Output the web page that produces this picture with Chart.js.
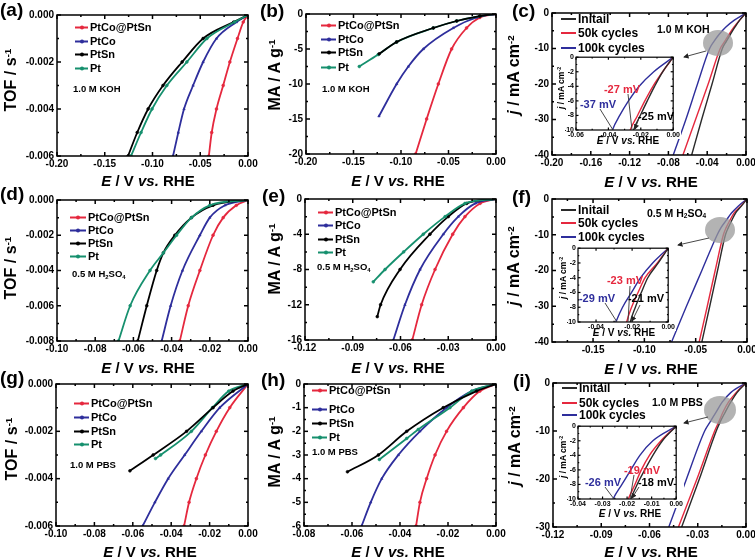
<!DOCTYPE html>
<html><head><meta charset="utf-8">
<script src="https://cdn.jsdelivr.net/npm/chart.js@4.4.1/dist/chart.umd.min.js"></script>
<style>
body{margin:0;background:#fff;width:755px;height:558px;position:relative;overflow:hidden;font-family:"Liberation Sans",Arial,sans-serif;}
canvas{position:absolute;}
.t{position:absolute;white-space:nowrap;color:#000;font-weight:bold;line-height:1;}
.t sup{font-size:62%;vertical-align:0.55em;line-height:0;}
.t sub{font-size:62%;vertical-align:-0.25em;line-height:0;}
.lg{position:absolute;white-space:nowrap;font-weight:bold;color:#000;line-height:1;transform:translateY(-50%);display:flex;align-items:center;}
.smp{position:relative;display:inline-block;height:2px;margin-right:2px;}
.dot{position:absolute;left:50%;top:50%;width:4px;height:4px;border-radius:50%;transform:translate(-50%,-50%);}
svg{position:absolute;left:0;top:0;z-index:5;}
</style></head>
<body>
<script>
// ---------------- series names ----------------
const catalysts = ['PtCo@PtSn', 'PtCo', 'PtSn', 'Pt'];
const cycles = ['Initail', '50k cycles', '100k cycles'];

// ---------------- (a) TOF, 1.0 M KOH ----------------
const aTOF = [0, -0.0003, -0.001, -0.002, -0.003, -0.004, -0.005, -0.006];
const aE_PtCoPtSn = [0, -0.005, -0.011, -0.019, -0.026, -0.033, -0.038, -0.041];
const aE_PtCo = [0, -0.012, -0.033, -0.047, -0.0575, -0.067, -0.073, -0.0785];
const aE_PtSn = [0, -0.015, -0.047, -0.069, -0.089, -0.1046, -0.116, -0.1256];
const aE_Pt = [0, -0.014, -0.043, -0.064, -0.085, -0.1005, -0.112, -0.1225];

// ---------------- (b) MA, 1.0 M KOH ----------------
const bMA_PtCoPtSn = [0, -0.5, -2, -5, -10, -15, -20];
const bE_PtCoPtSn = [0, -0.017, -0.031, -0.0467, -0.0607, -0.073, -0.0846];
const bMA_PtCo = [0, -0.5, -2, -5, -7.5, -10, -14.6];
const bE_PtCo = [0, -0.0204, -0.045, -0.0765, -0.0923, -0.1046, -0.1232];
const bMA_PtSn = [0, -0.3, -1, -2, -4, -5.7];
const bE_PtSn = [0, -0.017, -0.0414, -0.066, -0.1046, -0.123];
const bMA_Pt = [0, -0.3, -1, -2, -4, -5.8, -7.5];
const bE_Pt = [0, -0.017, -0.0414, -0.066, -0.1046, -0.124, -0.1439];

// ---------------- (c) stability, 1.0 M KOH ----------------
const cJ = [0, -2, -4, -6, -8, -10, -20, -30, -40];
const cE_Init = [0, -0.0065, -0.0115, -0.016, -0.0203, -0.0244, -0.035, -0.0457, -0.056];
const cE_50k = [0, -0.0065, -0.0125, -0.0175, -0.022, -0.0265, -0.039, -0.052, -0.065];
const cE_100k = [0, -0.012, -0.021, -0.0276, -0.033, -0.0375, -0.050, -0.062, -0.075];

// ---------------- (d) TOF, 0.5 M H2SO4 ----------------
const dTOF_A = [0, -0.0003, -0.001, -0.002, -0.004, -0.006, -0.008];
const dE_PtCoPtSn = [0, -0.0061, -0.013, -0.0183, -0.0252, -0.0313, -0.0357];
const dE_PtCo = [0, -0.012, -0.020, -0.0252, -0.0343, -0.0405, -0.0452];
const dTOF_B = [0, -0.0003, -0.001, -0.002, -0.003, -0.004, -0.006, -0.008];
const dE_PtSn = [0, -0.0183, -0.0296, -0.0383, -0.0443, -0.0478, -0.053, -0.0577];
const dE_Pt = [0, -0.020, -0.0296, -0.0374, -0.0443, -0.0513, -0.0617, -0.0678];

// ---------------- (e) MA, 0.5 M H2SO4 ----------------
const eMA = [0, -0.5, -2, -4, -8, -12, -16];
const eE_PtCoPtSn = [0, -0.010, -0.0195, -0.0272, -0.0383, -0.0467, -0.0526];
const eE_PtCo = [0, -0.013, -0.0237, -0.0331, -0.0477, -0.0572, -0.0645];
const eMA_PtSn = [0, -0.5, -2, -4, -8, -12, -13.35];
const eE_PtSn = [0, -0.0184, -0.030, -0.0415, -0.0603, -0.0725, -0.0746];
const eMA_Pt = [0, -0.5, -2, -4, -6, -8, -9.4];
const eE_Pt = [0, -0.0195, -0.032, -0.0457, -0.058, -0.0697, -0.0771];

// ---------------- (f) stability, 0.5 M H2SO4 ----------------
const fJ = [0, -2, -4, -6, -8, -10, -20, -30, -40];
const fE_Init = [0, -0.0055, -0.0113, -0.0149, -0.0182, -0.021, -0.0287, -0.0363, -0.044];
const fE_50k = [0, -0.006, -0.0128, -0.0167, -0.0203, -0.023, -0.031, -0.0387, -0.0466];
const fE_100k = [0, -0.0086, -0.0153, -0.0203, -0.0253, -0.029, -0.044, -0.059, -0.0735];

// ---------------- (g) TOF, 1.0 M PBS ----------------
const gTOF = [0, -0.001, -0.002, -0.003, -0.004, -0.005, -0.006];
const gE_PtCoPtSn = [0, -0.0095, -0.0165, -0.0222, -0.0269, -0.0307, -0.0333];
const gE_PtCo = [0, -0.0147, -0.0243, -0.033, -0.0416, -0.0485, -0.0549];
const gTOF_PtSn = [0, -0.0003, -0.001, -0.002, -0.003, -0.00367];
const gE_PtSn = [0, -0.0078, -0.0182, -0.032, -0.0494, -0.0615];
const gTOF_Pt = [0, -0.0003, -0.001, -0.002, -0.003, -0.00315];
const gE_Pt = [0, -0.010, -0.0185, -0.0295, -0.0455, -0.0482];

// ---------------- (h) MA, 1.0 M PBS ----------------
const hMA = [0, -0.3, -1, -2, -3, -4, -5, -6];
const hE_PtCoPtSn = [0, -0.0067, -0.0136, -0.0206, -0.0254, -0.0289, -0.0317, -0.0333];
const hE_PtCo = [0, -0.0101, -0.0206, -0.0317, -0.0407, -0.0476, -0.0522, -0.056];
const hMA_PtSn = [0, -0.3, -1, -2, -3, -3.71];
const hE_PtSn = [0, -0.0081, -0.022, -0.0372, -0.049, -0.0619];
const hMA_Pt = [0, -0.3, -1, -1.92, -2.3, -3.19];
const hE_Pt = [0, -0.0101, -0.0192, -0.0324, -0.0372, -0.0486];

// ---------------- (i) stability, 1.0 M PBS ----------------
const iJ = [0, -2, -4, -6, -8, -10, -20, -30];
const iE_Init = [0, -0.0056, -0.0095, -0.0128, -0.0159, -0.0185, -0.029, -0.040];
const iE_50k = [0, -0.0062, -0.0109, -0.0142, -0.0168, -0.0195, -0.0305, -0.042];
const iE_100k = [0, -0.0095, -0.0148, -0.0185, -0.0221, -0.0257, -0.037, -0.048];

// ---------------- tick labels ----------------
const ticksX_ab = [-0.20, -0.15, -0.10, -0.05, 0.00];
const ticksY_a = [0, -0.002, -0.004, -0.006];
const ticksY_b = [0, -5, -10, -15, -20];
const ticksX_c = [-0.20, -0.16, -0.12, -0.08, -0.04, 0.00];
const ticksY_cf = [0, -10, -20, -30, -40];
const ticksX_dg = [-0.10, -0.08, -0.06, -0.04, -0.02, 0.00];
const ticksY_d = [0, -0.002, -0.004, -0.006, -0.008];
const ticksX_ei = [-0.12, -0.09, -0.06, -0.03, 0.00];
const ticksY_e = [0, -4, -8, -12, -16];
const ticksX_f = [-0.15, -0.10, -0.05, 0.00];
const ticksY_g = [0, -0.002, -0.004, -0.006];
const ticksX_h = [-0.08, -0.06, -0.04, -0.02, 0.00];
const ticksY_h = [0, -1, -2, -3, -4, -5, -6];
const ticksY_i = [0, -10, -20, -30];
const ticksX_cIn = [-0.06, -0.04, -0.02, 0.00];
const ticksX_fIn = [-0.04, -0.02, 0.00];
const ticksX_iIn = [-0.04, -0.03, -0.02, -0.01, 0.00];
const ticksY_in = [0, -2, -4, -6, -8, -10];

// ---------------- styles ----------------
const RED = '#e5283e', BLUE = '#2e2e9c', BLACK = '#000000', GREEN = '#16906e', DARK = '#2a2a2a';
const FONT = '"Liberation Sans", Arial, sans-serif';

const pts = (xs, ys) => xs.map((x, i) => ({x: x, y: ys[i]}));
const fmt = d => v => { let s = Number(v).toFixed(d); if (parseFloat(s) === 0) s = (0).toFixed(d); return s; };

function ds(xs, ys, color, style, marker) {
  return {data: pts(xs, ys), borderColor: color, backgroundColor: color, borderWidth: marker ? 1.8 : 1.4,
    pointRadius: marker ? 1.4 : 0, pointStyle: style || 'circle', pointBorderWidth: 0.6,
    cubicInterpolationMode: 'monotone', fill: false};
}

const framePlugin = {
  id: 'frame',
  beforeDraw(chart, args, o) {
    if (o.bg) { const c = chart.ctx; c.save(); c.fillStyle = '#fff'; c.fillRect(0, 0, chart.width, chart.height); c.restore(); }
  },
  afterDatasetsDraw(chart, args, o) {
    const c = chart.ctx, ca = chart.chartArea, x = chart.scales.x, y = chart.scales.y;
    c.save(); c.strokeStyle = '#000'; c.lineWidth = o.lw;
    c.strokeRect(ca.left, ca.top, ca.right - ca.left, ca.bottom - ca.top);
    const ln = (x1, y1, x2, y2) => { c.beginPath(); c.moveTo(x1, y1); c.lineTo(x2, y2); c.stroke(); };
    const minors = (arr, lo, hi) => { const out = []; const st = arr[1] - arr[0];
      for (let i = 0; i < arr.length - 1; i++) out.push((arr[i] + arr[i + 1]) / 2);
      out.push(arr[0] - st / 2, arr[arr.length - 1] + st / 2);
      return out.filter(v => v > Math.min(lo, hi) + 1e-9 && v < Math.max(lo, hi) - 1e-9); };
    const xv = x.ticks.map(t => t.value), yv = y.ticks.map(t => t.value);
    const L = o.len;
    xv.forEach(v => { const p = x.getPixelForValue(v); ln(p, ca.bottom, p, ca.bottom - L); ln(p, ca.top, p, ca.top + L); });
    minors(xv, x.min, x.max).forEach(v => { const p = x.getPixelForValue(v); ln(p, ca.bottom, p, ca.bottom - L / 2); ln(p, ca.top, p, ca.top + L / 2); });
    yv.forEach(v => { const p = y.getPixelForValue(v); ln(ca.left, p, ca.left + L, p); ln(ca.right, p, ca.right - L, p); });
    minors(yv, y.min, y.max).forEach(v => { const p = y.getPixelForValue(v); ln(ca.left, p, ca.left + L / 2, p); ln(ca.right, p, ca.right - L / 2, p); });
    c.restore();
  }
};
Chart.register(framePlugin);

function panel(rect, xmin, xmax, xt, xd, ymin, ymax, yt, yd, sets, o) {
  o = Object.assign({yw: 50, xh: 18, pt: 9, pr: 14, fs: 10, lw: 1.5, len: 4, bg: false, z: 1, pad: 2}, o || {});
  const [L, T, R, B] = rect;
  const cv = document.createElement('canvas');
  const w = o.yw + (R - L) + o.pr, h = o.pt + (B - T) + o.xh;
  cv.width = w; cv.height = h;
  cv.style.left = (L - o.yw) + 'px'; cv.style.top = (T - o.pt) + 'px';
  cv.style.width = w + 'px'; cv.style.height = h + 'px'; cv.style.zIndex = o.z;
  document.body.appendChild(cv);
  const tf = {family: FONT, size: o.fs, weight: 'bold'};
  new Chart(cv, {
    type: 'line',
    data: {datasets: sets},
    options: {
      responsive: false, animation: false, devicePixelRatio: 1,
      layout: {padding: {top: o.pt, right: o.pr, left: 0, bottom: 0}},
      plugins: {legend: {display: false}, tooltip: {enabled: false}, frame: {lw: o.lw, len: o.len, bg: o.bg}},
      scales: {
        x: {type: 'linear', min: xmin, max: xmax,
          afterBuildTicks: s => { s.ticks = xt.map(v => ({value: v})); },
          afterFit: s => { s.height = o.xh; },
          grid: {display: false, drawTicks: false}, border: {display: false},
          ticks: {font: tf, color: '#000', padding: o.pad, maxRotation: 0, autoSkip: false, callback: fmt(xd)}},
        y: {type: 'linear', min: ymin, max: ymax,
          afterBuildTicks: s => { s.ticks = yt.map(v => ({value: v})); },
          afterFit: s => { s.width = o.yw; },
          grid: {display: false, drawTicks: false}, border: {display: false},
          ticks: {font: tf, color: '#000', padding: o.ypad || 3, autoSkip: false, callback: fmt(yd)}}
      }
    }
  });
}

// ---------------- main panels ----------------
panel([57, 15, 248, 156], -0.2, 0, ticksX_ab, 2, -0.006, 0, ticksY_a, 3, [
  ds(aE_Pt, aTOF, GREEN, 'circle', true), ds(aE_PtSn, aTOF, BLACK, 'circle', true),
  ds(aE_PtCo, aTOF, BLUE, 'triangle', true), ds(aE_PtCoPtSn, aTOF, RED, 'circle', true)]);
panel([306, 14, 496, 154], -0.2, 0, ticksX_ab, 2, -20, 0, ticksY_b, 0, [
  ds(bE_PtSn, bMA_PtSn, BLACK, 'circle', true), ds(bE_Pt, bMA_Pt, GREEN, 'circle', true),
  ds(bE_PtCo, bMA_PtCo, BLUE, 'triangle', true), ds(bE_PtCoPtSn, bMA_PtCoPtSn, RED, 'circle', true)]);
panel([552, 13, 746, 155], -0.2, 0, ticksX_c, 2, -40, 0, ticksY_cf, 0, [
  ds(cE_Init, cJ, DARK), ds(cE_50k, cJ, RED), ds(cE_100k, cJ, BLUE)], {pr: 12});

panel([57, 200, 248, 341], -0.1, 0, ticksX_dg, 2, -0.008, 0, ticksY_d, 3, [
  ds(dE_Pt, dTOF_B, GREEN, 'circle', true), ds(dE_PtSn, dTOF_B, BLACK, 'circle', true),
  ds(dE_PtCo, dTOF_A, BLUE, 'triangle', true), ds(dE_PtCoPtSn, dTOF_A, RED, 'circle', true)]);
panel([305, 199, 496, 340], -0.12, 0, ticksX_ei, 2, -16, 0, ticksY_e, 0, [
  ds(eE_Pt, eMA_Pt, GREEN, 'circle', true), ds(eE_PtSn, eMA_PtSn, BLACK, 'circle', true),
  ds(eE_PtCo, eMA, BLUE, 'triangle', true), ds(eE_PtCoPtSn, eMA, RED, 'circle', true)]);
panel([552, 199, 747, 342], -0.19, 0, ticksX_f, 2, -40, 0, ticksY_cf, 0, [
  ds(fE_Init, fJ, DARK), ds(fE_50k, fJ, RED), ds(fE_100k, fJ, BLUE)], {pr: 12});

panel([56, 384, 248, 526], -0.1, 0, ticksX_dg, 2, -0.006, 0, ticksY_g, 3, [
  ds(gE_PtSn, gTOF_PtSn, BLACK, 'circle', true), ds(gE_Pt, gTOF_Pt, GREEN, 'circle', true),
  ds(gE_PtCo, gTOF, BLUE, 'triangle', true), ds(gE_PtCoPtSn, gTOF, RED, 'circle', true)]);
panel([304, 384, 496, 526], -0.08, 0, ticksX_h, 2, -6, 0, ticksY_h, 0, [
  ds(hE_PtSn, hMA_PtSn, BLACK, 'circle', true), ds(hE_Pt, hMA_Pt, GREEN, 'circle', true),
  ds(hE_PtCo, hMA, BLUE, 'triangle', true), ds(hE_PtCoPtSn, hMA, RED, 'circle', true)]);
panel([553, 383, 746, 527], -0.12, 0, ticksX_ei, 2, -30, 0, ticksY_i, 0, [
  ds(iE_Init, iJ, DARK), ds(iE_50k, iJ, RED), ds(iE_100k, iJ, BLUE)], {pr: 12});

// ---------------- insets ----------------
const inOpt = {yw: 11, xh: 9, pt: 4, pr: 5, fs: 7, lw: 1.2, len: 2.5, bg: true, z: 3, pad: 1, ypad: 2};
panel([576, 55, 676, 130], -0.06, 0, ticksX_cIn, 2, -10, 0, ticksY_in, 0, [
  ds(cE_Init, cJ, DARK), ds(cE_50k, cJ, RED), ds(cE_100k, cJ, BLUE)], inOpt);
panel([578, 246, 671, 322], -0.05, 0, ticksX_fIn, 2, -10, 0, ticksY_in, 0, [
  ds(fE_Init, fJ, DARK), ds(fE_50k, fJ, RED), ds(fE_100k, fJ, BLUE)], inOpt);
panel([578, 424, 679, 499], -0.04, 0, ticksX_iIn, 2, -10, 0, ticksY_in, 0, [
  ds(iE_Init, iJ, DARK), ds(iE_50k, iJ, RED), ds(iE_100k, iJ, BLUE)], inOpt);

// ---------------- text ----------------
function txt(html, x, y, size, opt) {
  opt = opt || {};
  const d = document.createElement('div');
  d.className = 't'; d.innerHTML = html;
  d.style.fontSize = size + 'px'; d.style.left = x + 'px'; d.style.top = y + 'px';
  d.style.zIndex = 6;
  if (opt.color) d.style.color = opt.color;
  let tr = 'translate(-50%,-50%)';
  if (opt.rot) tr += ' rotate(-90deg)';
  if (opt.left) tr = 'translate(0,-50%)';
  d.style.transform = tr;
  document.body.appendChild(d);
}
const XT = '<i>E</i> / V <i>vs.</i> RHE';
const YT_TOF = 'TOF / s<sup>-1</sup>', YT_MA = 'MA / A g<sup>-1</sup>', YT_J = '<i>j</i> / mA cm<sup>-2</sup>';
[[148, 180], [398, 180], [651, 181], [148, 367], [398, 367], [651, 368], [150, 551], [398, 551], [651, 551]]
  .forEach(p => txt(XT, p[0], p[1], 15));
txt(YT_TOF, 11, 80, 16, {rot: 1}); txt(YT_MA, 275, 75, 16, {rot: 1}); txt(YT_J, 514, 75, 16, {rot: 1});
txt(YT_TOF, 11, 268, 16, {rot: 1}); txt(YT_MA, 275, 259, 16, {rot: 1}); txt(YT_J, 514, 266, 16, {rot: 1});
txt(YT_TOF, 12, 449, 16, {rot: 1}); txt(YT_MA, 275, 452, 16, {rot: 1}); txt(YT_J, 515, 446, 16, {rot: 1});
// panel labels
[['(a)', 0, 9], ['(b)', 260, 10], ['(c)', 512, 10], ['(d)', 0, 193], ['(e)', 262, 195], ['(f)', 512, 196],
 ['(g)', 0, 377], ['(h)', 261, 379], ['(i)', 513, 380]].forEach(p => txt(p[0], p[1], p[2], 19, {left: 1}));
// insets axis titles
txt(XT, 628, 141, 10); txt(XT, 624, 333, 10); txt(XT, 630, 514, 10);
txt(YT_J, 561, 88, 8.5, {rot: 1}); txt(YT_J, 563, 278, 8.5, {rot: 1}); txt(YT_J, 563, 457, 8.5, {rot: 1});
// conditions
txt('1.0 M KOH', 73, 89, 9.5, {left: 1}); txt('1.0 M KOH', 322, 89, 9.5, {left: 1}); txt('1.0 M KOH', 657, 29, 10.5, {left: 1});
txt('0.5 M H<sub>2</sub>SO<sub>4</sub>', 72, 274, 9.5, {left: 1}); txt('0.5 M H<sub>2</sub>SO<sub>4</sub>', 317, 267, 9.5, {left: 1});
txt('0.5 M H<sub>2</sub>SO<sub>4</sub>', 647, 213, 10.5, {left: 1});
txt('1.0 M PBS', 70, 465, 9.5, {left: 1}); txt('1.0 M PBS', 312, 452, 9.5, {left: 1}); txt('1.0 M PBS', 652, 402, 10.5, {left: 1});
// inset annotations
txt('-27 mV', 622, 89, 11, {color: RED}); txt('-37 mV', 598, 104, 11, {color: BLUE}); txt('-25 mV', 656, 116, 11);
txt('-23 mV', 625, 280, 11, {color: RED}); txt('-29 mV', 597, 298, 11, {color: BLUE}); txt('-21 mV', 646, 298, 11);
txt('-19 mV', 642, 470, 11, {color: RED}); txt('-26 mV', 603, 482, 11, {color: BLUE}); txt('-18 mV', 656, 482, 11);

// legends
function legend(x, ys, names, colors, size, w, dots) {
  names.forEach((n, i) => {
    const d = document.createElement('div'); d.className = 'lg';
    d.style.left = x + 'px'; d.style.top = ys[i] + 'px'; d.style.fontSize = size + 'px'; d.style.zIndex = 6;
    const s = document.createElement('span'); s.className = 'smp'; s.style.width = w + 'px'; s.style.background = colors[i];
    if (dots) { const dt = document.createElement('span'); dt.className = 'dot'; dt.style.background = colors[i]; s.appendChild(dt); }
    d.appendChild(s); d.appendChild(document.createTextNode(n)); document.body.appendChild(d);
  });
}
const catColors = [RED, BLUE, BLACK, GREEN], cycColors = [DARK, RED, BLUE];
legend(75, [27, 41, 54, 68], catalysts, catColors, 11, 13, true);
legend(321, [25, 39, 52, 67], catalysts, catColors, 11, 15, true);
legend(561, [19, 33, 48], cycles, cycColors, 12, 15, false);
legend(70, [217, 230, 243, 256], catalysts, catColors, 11, 16, true);
legend(318, [212, 225, 239, 252], catalysts, catColors, 11, 15, true);
legend(561, [210, 223, 237], cycles, cycColors, 12, 15, false);
legend(74, [403, 417, 431, 444], catalysts, catColors, 11, 15, true);
legend(312, [390, 409, 423, 437], catalysts, catColors, 11, 15, true);
legend(562, [388, 403, 415], cycles, cycColors, 12, 15, false);
</script>
<svg width="755" height="558" viewBox="0 0 755 558">
  <defs><marker id="ah" markerWidth="6" markerHeight="6" refX="5" refY="3" orient="auto"><path d="M0,0 L6,3 L0,6 z" fill="#222"/></marker></defs>
  <g fill="#9a9a9a" opacity="0.75">
    <ellipse cx="718" cy="43" rx="15" ry="13"/>
    <ellipse cx="720" cy="230" rx="15" ry="13"/>
    <ellipse cx="720" cy="410" rx="16" ry="14"/>
  </g>
  <g stroke="#333" stroke-width="0.9" fill="none">
    <line x1="706" y1="51" x2="684" y2="57" marker-end="url(#ah)"/>
    <line x1="709" y1="238" x2="678" y2="245" marker-end="url(#ah)"/>
    <line x1="708" y1="417" x2="684" y2="423" marker-end="url(#ah)"/>
    <line x1="600" y1="109" x2="613" y2="130"/>
    <line x1="628" y1="94" x2="632" y2="130"/>
    <line x1="639" y1="118" x2="635" y2="129" marker-end="url(#ah)"/>
    <line x1="605" y1="303" x2="617" y2="322"/>
    <line x1="630" y1="286" x2="628" y2="322"/>
    <line x1="640" y1="305" x2="632" y2="321" marker-end="url(#ah)"/>
    <line x1="605" y1="487" x2="614" y2="499"/>
    <line x1="634" y1="475" x2="630" y2="499"/>
    <line x1="639" y1="487" x2="632" y2="498" marker-end="url(#ah)"/>
  </g>
</svg>
</body></html>
